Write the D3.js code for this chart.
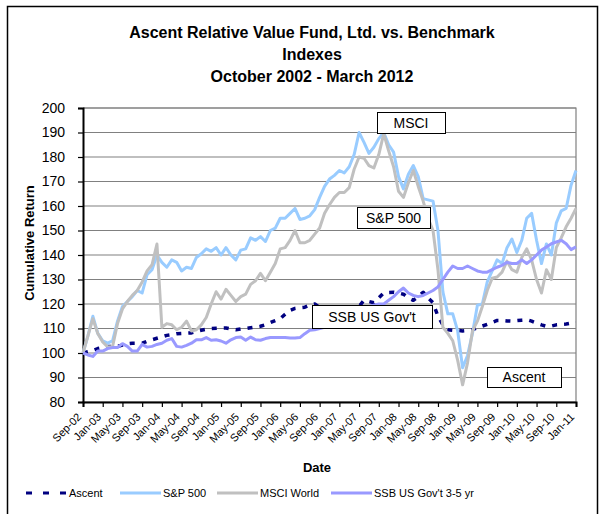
<!DOCTYPE html>
<html>
<head>
<meta charset="utf-8">
<script src="https://cdn.jsdelivr.net/npm/d3@7/dist/d3.min.js"></script>
<style>
body { margin: 0; background: #fff; }
text { font-family: Arial, "Liberation Sans", sans-serif; fill: #000; }
</style>
</head>
<body>
<div id="chart"></div>
<script>
// Months on the category axis: Sep-02 ... Jan-11
var months = d3.timeMonth.range(new Date(2002, 8, 1), new Date(2011, 1, 1)).map(d3.timeFormat("%b-%y"));

// Cumulative return of each series, one value per month
var ascent = [100, 100.5, 101, 101.8, 102.2, 102.7, 102.7, 102.7, 103.2, 103.8,
	104, 104, 104, 104.8, 105.4, 106, 106.6, 107.2, 107.5, 107.9,
	108, 108.1, 108.2, 108.8, 109.3, 109.7, 110, 110.1, 110.2, 110.2,
	109.8, 109.5, 109.8, 110, 110.3, 110.6, 110.9, 111.5, 112.4, 113.2,
	114, 115.8, 117.4, 118.2, 118.5, 118.7, 119.5, 120, 118.5, 118.3,
	118.3, 118.3, 118.3, 118.3, 118.3, 118.5, 119, 121.5, 121, 120.5,
	122.5, 124.5, 124.7, 124.8, 124.5, 124, 122.5, 121.5, 123, 124.8,
	122.5, 120.5, 115, 111.5, 109.5, 109.3, 109.3, 109, 109.2, 109.5,
	110.3, 111, 111.7, 112.5, 113.3, 113.3, 113.1, 113, 113.2, 113.4,
	113.6, 113, 112.2, 111.5, 110.9, 111, 111.5, 111.7, 111.8, 112.2,
	112.3];

var sp500 = [100, 107, 115, 108, 105, 104, 105, 113, 119, 121,
	123, 125.5, 124.5, 132, 134, 140, 137, 135, 138, 137,
	133.5, 135, 134.5, 139, 140.5, 142.5, 141.5, 143, 140, 143,
	140, 138, 142, 142.5, 147, 146, 147.5, 145.5, 150, 151,
	155, 155, 157, 159, 154.5, 155, 156, 158.5, 163.5, 168,
	171, 172.5, 174.5, 173.5, 176, 181, 190, 186, 181.5, 184,
	187.5, 190, 185, 182, 172, 167, 173, 176.5, 172, 163,
	162.5, 162, 150, 125, 116, 116, 109, 94, 99, 108,
	119.5, 120, 129, 133.5, 138, 136.5, 143, 146.5, 141, 146,
	155, 157, 146, 136.5, 144.5, 140, 153, 158, 159, 168.5,
	174.5];

var msci = [100, 107, 114, 108, 104.5, 102.5, 102.7, 112, 118, 121,
	123.5, 125.5, 129, 133.5, 136, 144.5, 110.5, 112, 111.5, 109.5,
	110.5, 113, 109, 109.5, 111.5, 114.5, 120, 125, 122, 126,
	123.5, 121, 123, 124, 128, 129.5, 132.5, 129.5, 133, 136.5,
	142.5, 143, 146, 150, 145, 145, 146, 148.5, 151, 157,
	160.5, 163.5, 165.5, 165.5, 167.5, 175, 180, 179.5, 176.5, 175.5,
	181, 189.5, 182.5, 176, 166, 163.5, 169.5, 174.5, 168, 162,
	155, 150, 134, 110.5, 108, 105, 97, 87, 96, 109,
	113, 119, 125.5, 130.5, 131, 133, 137.5, 134, 133, 139,
	142.5, 138, 130, 124.5, 134, 130, 143, 147, 151.5, 155,
	159];

var ssb = [100, 99.2, 98.6, 100.8, 100.8, 101.8, 102.2, 102.2, 103.8, 102.7,
	100.8, 100.8, 103.5, 102.4, 102.7, 103.5, 104, 105.2, 105.9, 102.7,
	102.4, 103.1, 104, 105.4, 105.4, 106.3, 105.2, 105.4, 104.9, 104,
	105.4, 106.3, 106.5, 105.2, 106.5, 105.4, 105.2, 105.9, 106.3, 106.3,
	106.3, 106.3, 106.1, 106.1, 106.3, 107.9, 109.3, 109.5, 110, 110.5,
	111, 112, 113, 114, 115.5, 116.5, 117.5, 118.5, 119, 119.5,
	120, 120, 121.5, 123, 125, 126.5, 124.5, 123.5, 123, 123.5,
	124.5, 125.5, 127, 130, 133, 135.5, 134.5, 134.5, 135.5, 134.5,
	133.5, 133, 133, 134, 135, 135.8, 137, 136.5, 136.5, 138,
	136.5, 138, 140, 142, 143.3, 144.6, 145.3, 146, 144.6, 142.2,
	143.3];

var seriesNames = ["Ascent", "S&P 500", "MSCI World", "SSB US Gov't 3-5 yr"];
var seriesColors = ["#000080", "#99CCFF", "#C0C0C0", "#9999FF"];
var yTicks = [80, 90, 100, 110, 120, 130, 140, 150, 160, 170, 180, 190, 200];

// Dimensions of the drawing and of the plot area
var W = 603, H = 514;
var plot = {left: 83, right: 576, top: 108, bottom: 402};

var svg = d3.select("#chart")
	.append("svg")
	.attr("width", W)
	.attr("height", H);

// Outer frame
svg.append("rect")
	.attr("x", 7.5).attr("y", 6.5)
	.attr("width", 590).attr("height", 520)
	.attr("fill", "#fff")
	.attr("stroke", "#000")
	.attr("stroke-width", 1.5);

// Title
var title = ["Ascent Relative Value Fund, Ltd. vs. Benchmark", "Indexes", "October 2002 - March 2012"];
svg.append("g").selectAll("text")
	.data(title)
	.enter()
	.append("text")
	.attr("x", 312)
	.attr("y", function (d, i) { return 38 + i * 22; })
	.attr("text-anchor", "middle")
	.style("font-size", "16px")
	.style("font-weight", "bold")
	.text(function (d) { return d; });

// Scales
var x = d3.scalePoint()
	.domain(months)
	.range([plot.left, plot.right]);

var y = d3.scaleLinear()
	.domain([80, 200])
	.range([plot.bottom, plot.top]);

// Horizontal gridlines
svg.append("g")
	.selectAll("line")
	.data(yTicks)
	.enter()
	.append("line")
	.attr("x1", plot.left).attr("x2", plot.right)
	.attr("y1", function (d) { return y(d); })
	.attr("y2", function (d) { return y(d); })
	.attr("stroke", "#808080")
	.attr("stroke-width", 1.2);

// Plot area border (top and right)
svg.append("path")
	.attr("d", "M" + plot.left + "," + plot.top + "H" + plot.right + "V" + plot.bottom)
	.attr("fill", "none")
	.attr("stroke", "#808080")
	.attr("stroke-width", 1.2);

// Y axis
var yAxis = svg.append("g")
	.attr("transform", "translate(" + plot.left + ",0)")
	.call(d3.axisLeft(y).tickValues(yTicks).tickSize(5).tickPadding(13));
yAxis.select(".domain").attr("stroke-width", 2);
yAxis.selectAll(".tick line").attr("stroke-width", 1.2);
yAxis.selectAll("text").style("font-size", "14px").attr("fill", "#000");

// X axis, a label every 4 months
var xAxis = svg.append("g")
	.attr("transform", "translate(0," + plot.bottom + ")")
	.call(d3.axisBottom(x)
		.tickValues(months.filter(function (d, i) { return i % 4 === 0; }))
		.tickSize(5));
xAxis.select(".domain").attr("stroke-width", 2);
xAxis.selectAll(".tick line").attr("stroke-width", 1.2);
xAxis.selectAll("text")
	.style("font-size", "11px")
	.attr("fill", "#000")
	.attr("text-anchor", "end")
	.attr("x", -12)
	.attr("y", 10)
	.attr("dy", 0)
	.attr("transform", "rotate(-45)");

// Axis titles
svg.append("text")
	.attr("x", 317).attr("y", 472)
	.attr("text-anchor", "middle")
	.style("font-size", "13px")
	.style("font-weight", "bold")
	.text("Date");

svg.append("text")
	.attr("transform", "translate(34,243) rotate(-90)")
	.attr("text-anchor", "middle")
	.style("font-size", "13px")
	.style("font-weight", "bold")
	.text("Cumulative Return");

// Lines
var line = d3.line()
	.x(function (d, i) { return x(months[i]); })
	.y(function (d) { return y(d); });

var allSeries = [ascent, sp500, msci, ssb];
allSeries.forEach(function (s, k) {
	svg.append("path")
		.datum(s)
		.attr("d", line)
		.attr("fill", "none")
		.attr("stroke", seriesColors[k])
		.attr("stroke-width", k === 0 ? 3.5 : 3)
		.attr("stroke-linejoin", "round")
		.attr("stroke-dasharray", k === 0 ? "5,7" : null);
});

// Callout boxes on the chart
var callouts = [
	{text: "MSCI", x: 377, y: 112, w: 68, h: 21},
	{text: "S&P 500", x: 357, y: 207, w: 73, h: 21},
	{text: "SSB US Gov't", x: 312, y: 305, w: 120, h: 23},
	{text: "Ascent", x: 487, y: 367, w: 74, h: 20}
];
var boxes = svg.append("g").selectAll("g")
	.data(callouts)
	.enter()
	.append("g");
boxes.append("rect")
	.attr("x", function (d) { return d.x + 0.5; })
	.attr("y", function (d) { return d.y + 0.5; })
	.attr("width", function (d) { return d.w; })
	.attr("height", function (d) { return d.h; })
	.attr("fill", "#fff")
	.attr("stroke", "#000")
	.attr("stroke-width", 1);
boxes.append("text")
	.attr("x", function (d) { return d.x + d.w / 2; })
	.attr("y", function (d) { return d.y + d.h / 2 + 5; })
	.attr("text-anchor", "middle")
	.style("font-size", "14px")
	.text(function (d) { return d.text; });

// Legend
var legendX = [26, 120, 217, 331];
var legend = svg.append("g").selectAll("g")
	.data(seriesNames)
	.enter()
	.append("g")
	.attr("transform", function (d, i) { return "translate(" + legendX[i] + ",493)"; });
legend.append("line")
	.attr("x1", 0).attr("x2", 41)
	.attr("stroke", function (d, i) { return seriesColors[i]; })
	.attr("stroke-width", 3)
	.attr("stroke-dasharray", function (d, i) { return i === 0 ? "6,11" : null; });
legend.append("text")
	.attr("x", 43).attr("y", 4)
	.style("font-size", "11px")
	.text(function (d) { return d; });
</script>
</body>
</html>
